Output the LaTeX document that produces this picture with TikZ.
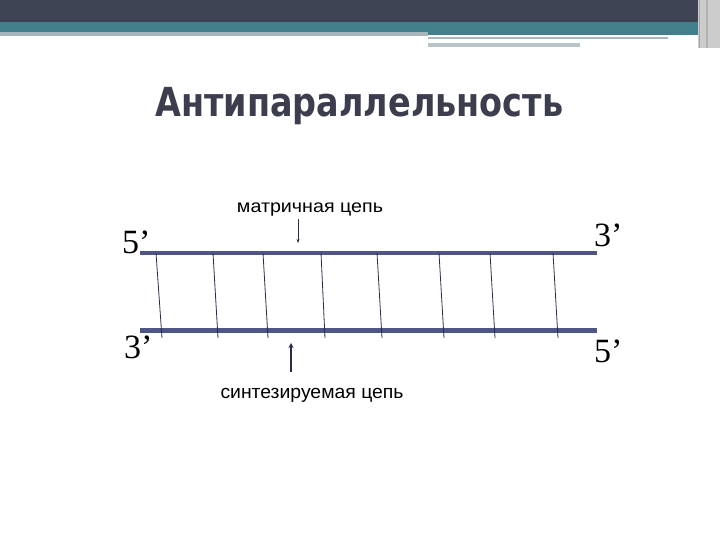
\documentclass[tikz,border=0pt]{standalone}
\usepackage{fontspec}
\usepackage{graphicx}
\usetikzlibrary{arrows.meta}
\newfontfamily\titlefont{DejaVu Sans}
\newfontfamily\labfont{Liberation Sans}
\newfontfamily\numfont{Liberation Serif}
\definecolor{bandDark}{HTML}{3F4454}
\definecolor{bandTeal}{HTML}{41808A}
\definecolor{bandGrey}{HTML}{A6B6BA}
\definecolor{strandCol}{HTML}{4E5587}
\definecolor{titleCol}{HTML}{3C3E4E}
\definecolor{rungCol}{HTML}{2A2D45}
\tikzset{
  strand/.style={strandCol, line width=4.5pt},
  rung/.style={rungCol, line width=0.8pt},
  endlab/.style={inner sep=0pt, font=\numfont\fontsize{34}{36}\selectfont},
  chainlab/.style={inner sep=0pt, anchor=base},
}
\begin{document}
\begin{tikzpicture}[x=1pt,y=-1pt]
\useasboundingbox (0,0) rectangle (720,540);
% header band
\fill[bandDark] (0,0) rectangle (698,22);
\fill[bandTeal] (0,22) rectangle (698,32);
\fill[bandTeal] (428,32) rectangle (698,35);
\fill[bandGrey] (0,32) rectangle (428,36);
\fill[bandGrey] (428,37) rectangle (668,39);
\fill[bandGrey!80] (428,43) rectangle (580,47);
\fill[black!20] (698,0) rectangle (720,48);
\fill[black!35] (699,0) rectangle (700,48);
\fill[black!30] (706,0) rectangle (708,48);
% title
\node[anchor=base west, inner sep=0pt, text=titleCol] (title) at (155,117)
  {\resizebox{408pt}{\height}{\titlefont\bfseries\fontsize{40}{44}\selectfont Антипараллельность}};
% strands
\coordinate (tl) at (140,253);
\coordinate (tr) at (597,253);
\coordinate (bl) at (140,330.5);
\coordinate (br) at (597,330.5);
\draw[strand] (tl) -- (tr);
\draw[strand] (bl) -- (br);
% rungs
\foreach \i/\a/\b in {1/156/162, 2/213/218, 3/263/268, 4/321/325, 5/377/382, 6/439/444, 7/490/495, 8/553/558} {
  \coordinate (rt\i) at (\a,253);
  \coordinate (rb\i) at (\b,338);
  \draw[rung] (rt\i) -- (rb\i);
}
% end labels
\node[endlab, anchor=base west] (l5top) at (122,253) {5’};
\node[endlab, anchor=base west] (r3top) at (594,247) {3’};
\node[endlab, anchor=base west] (l3bot) at (124,358) {3’};
\node[endlab, anchor=base west] (r5bot) at (594,362) {5’};
% chain labels
\node[chainlab] (matr) at (310,213)
  {\resizebox{146pt}{\height}{\labfont\fontsize{18}{20}\selectfont матричная цепь}};
\node[chainlab] (synt) at (312,398)
  {\resizebox{183pt}{\height}{\labfont\fontsize{19}{21}\selectfont синтезируемая цепь}};
% arrows
\coordinate (a1s) at (298,219);
\coordinate (a1e) at (298,243);
\draw[rungCol, line width=0.8pt, -{Stealth[length=4pt,width=3pt]}] (a1s) -- (a1e);
\coordinate (a2s) at (291,372);
\coordinate (a2e) at (291,343);
\draw[rungCol, line width=1.6pt, -{Stealth[length=5pt,width=5pt]}] (a2s) -- (a2e);
\end{tikzpicture}
\end{document}
